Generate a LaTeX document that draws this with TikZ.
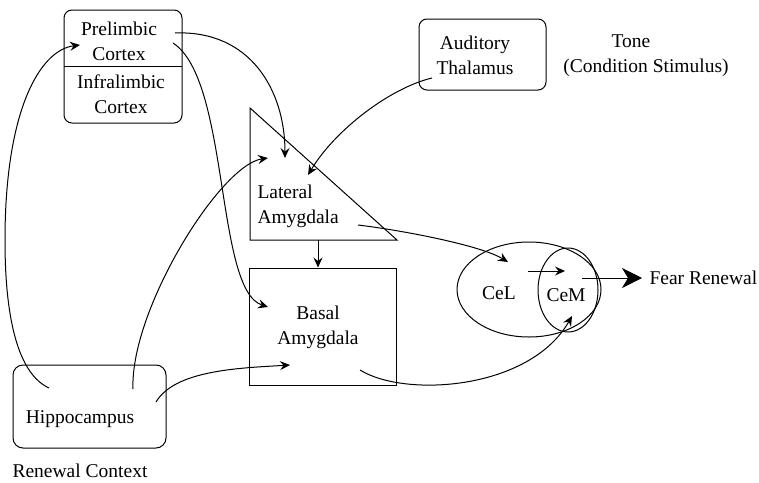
\documentclass[tikz,border=0pt]{standalone}
\usepackage{fontspec}
\setmainfont{Liberation Serif}
\usetikzlibrary{arrows.meta,shapes.geometric}
\begin{document}
\begin{tikzpicture}[x=1pt,y=-1pt,line width=1pt,
		lbl/.style={font=\fontsize{19.5}{25}\selectfont,inner sep=0pt},
		conn/.style={-{Stealth[length=10pt,width=9pt,inset=3.5pt]}},
		bigconn/.style={-{Stealth[length=20pt,width=20pt,inset=6pt]}},
		region/.style={draw,ellipse,inner sep=0pt}]
	\useasboundingbox (0,0) rectangle (759,482);

	% cortex
	\draw[rounded corners=8pt] (64,10) rectangle (182,123);
	\draw (64,66.5) -- (182,66.5);
	\node[lbl,align=center] (pl) at (119,41) {Prelimbic\\Cortex};
	\node[lbl,align=center] (il) at (121,94) {Infralimbic\\Cortex};

	% thalamus and tone
	\draw[rounded corners=8pt] (419,19) rectangle (546,90);
	\node[lbl,align=center] (at) at (475,55) {Auditory\\Thalamus};
	\node[lbl,anchor=base] (tone) at (631,47) {Tone};
	\node[lbl,anchor=base] (cs) at (646,72) {(Condition Stimulus)};

	% amygdala
	\draw (250,108) -- (250,240) -- (397,240) -- cycle;
	\node[lbl,align=left,anchor=west] (la) at (257,206) {Lateral\\Amygdala};
	\node[draw,minimum width=147,minimum height=117] (babox) at (322.5,326.5) {};
	\node[lbl,align=center] (ba) at (318,327) {Basal\\Amygdala};

	% hippocampus
	\draw[rounded corners=10pt] (13,365) rectangle (166,448);
	\node[lbl,anchor=base] (hip) at (80,423) {Hippocampus};
	\node[lbl,anchor=base] (ctx) at (80,477) {Renewal Context};

	% central nucleus
	\node[region,minimum width=144,minimum height=95] (ce) at (529,289.5) {};
	\node[region,minimum width=60,minimum height=84] (cemreg) at (568,290) {};
	\node[lbl,anchor=base] (cel) at (499,299) {CeL};
	\node[lbl,anchor=base] (cem) at (566,301) {CeM};
	\node[lbl,anchor=base west] (fear) at (649,284) {Fear Renewal};

	% connector ends
	\coordinate (pl-a) at (175,33);
	\coordinate (pl-b) at (173,43);
	\coordinate (pl-in) at (80,45);
	\coordinate (at-out) at (432,78);
	\coordinate (la-in1) at (285,158);
	\coordinate (la-in2) at (308,175);
	\coordinate (la-in3) at (268,158);
	\coordinate (la-out) at (358,225);
	\coordinate (la-bot) at (318,240);
	\coordinate (ba-in1) at (268,307);
	\coordinate (ba-in2) at (290,365);
	\coordinate (ba-out) at (360,370);
	\coordinate (hip-a) at (49,388);
	\coordinate (hip-b) at (133,389);
	\coordinate (hip-c) at (156,402);
	\coordinate (cel-in) at (508,262);
	\coordinate (cel-out) at (528,271);
	\coordinate (cem-in1) at (565,271);
	\coordinate (cem-in2) at (572,316);
	\coordinate (cem-out) at (582,278);
	\coordinate (fear-in) at (642,278);

	\draw[conn] (pl-a) .. controls (250,30) and (285,90) .. (la-in1);
	\draw[conn] (pl-b) .. controls (230,80) and (215,290) .. (ba-in1);
	\draw[conn] (at-out) .. controls (390,88) and (335,130) .. (la-in2);
	\draw[conn] (hip-a) .. controls (10,370) and (5,290) .. (5,240)
		.. controls (5,110) and (40,50) .. (pl-in);
	\draw[conn] (hip-b) .. controls (130,310) and (220,165) .. (la-in3);
	\draw[conn] (hip-c) .. controls (175,370) and (240,368) .. (ba-in2);
	\draw[conn] (la-out) .. controls (400,230) and (480,245) .. (cel-in);
	\draw[conn] (la-bot) -- (babox.north -| la-bot);
	\draw[conn] (ba-out) .. controls (405,398) and (530,390) .. (cem-in2);
	\draw[conn] (cel-out) -- (cem-in1);
	\draw[bigconn] (cem-out) -- (fear-in);
\end{tikzpicture}
\end{document}
